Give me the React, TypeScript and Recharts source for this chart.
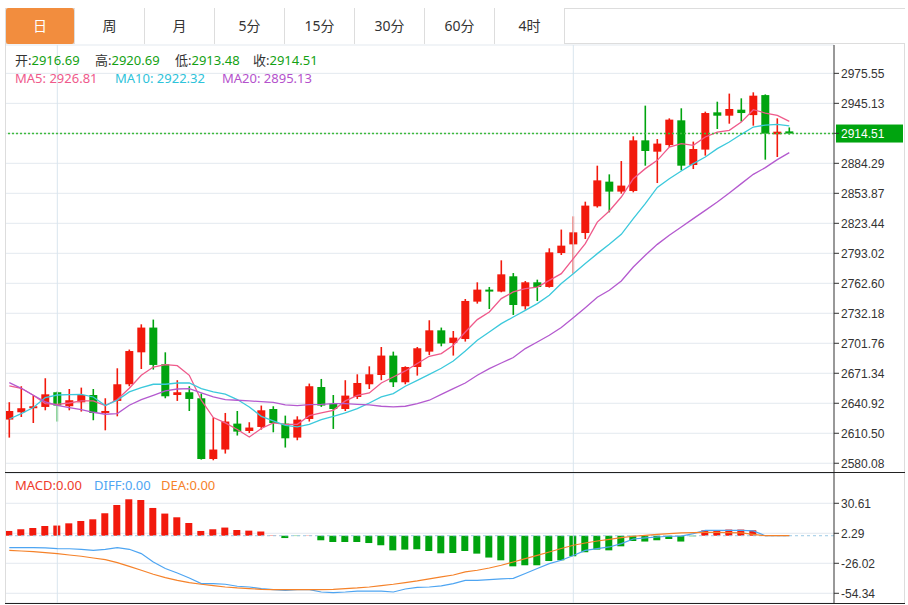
import React from 'react';
import { ComposedChart, Bar, Line, XAxis, YAxis, CartesianGrid, ReferenceLine, Cell } from 'recharts';

const tabs = ['日', '周', '月', '5分', '15分', '30分', '60分', '4时'];

// index of the first trading day of each month shown
const monthStarts = [4, 47];

const opens = [
  2624.4, 2631.8, 2635.9, 2637.2, 2652.1, 2637.9, 2641.9, 2649.3, 2631.1, 2643.3,
  2660.2, 2692.6, 2717.7, 2680.5, 2649.3, 2652.1, 2646.0, 2584.4, 2594.0, 2620.3,
  2612.8, 2616.9, 2635.1, 2620.3, 2606.1, 2625.0, 2657.4, 2640.6, 2635.1, 2647.3,
  2660.2, 2669.6, 2689.3, 2662.2, 2677.7, 2693.3, 2714.9, 2702.1, 2706.1, 2744.0,
  2756.2, 2754.2, 2769.7, 2739.3, 2763.6, 2758.9, 2793.3, 2802.1, 2813.6, 2840.7,
  2865.7, 2855.6, 2856.2, 2907.6, 2896.1, 2902.8, 2927.9, 2882.6, 2898.2, 2936.0,
  2932.6, 2938.7, 2933.2, 2953.5, 2913.7, 2916.69,
];
const highs = [
  2642.0, 2658.2, 2648.7, 2666.3, 2652.8, 2655.4, 2656.8, 2655.4, 2646.0, 2676.4,
  2695.4, 2721.0, 2725.8, 2692.6, 2664.3, 2658.2, 2650.8, 2626.4, 2631.1, 2633.1,
  2621.7, 2638.6, 2637.9, 2628.4, 2627.7, 2660.9, 2665.6, 2649.3, 2664.3, 2670.3,
  2678.4, 2698.0, 2693.3, 2678.4, 2698.0, 2725.1, 2717.7, 2714.2, 2746.7, 2763.6,
  2758.9, 2785.9, 2773.0, 2764.9, 2766.3, 2798.1, 2817.1, 2830.5, 2845.4, 2881.9,
  2873.1, 2886.6, 2911.7, 2942.8, 2908.9, 2929.9, 2940.1, 2906.3, 2936.7, 2946.8,
  2955.0, 2950.2, 2956.3, 2954.2, 2929.9, 2920.69,
];
const lows = [
  2606.1, 2627.0, 2620.9, 2633.8, 2622.4, 2633.8, 2632.5, 2623.7, 2613.5, 2627.7,
  2658.2, 2675.7, 2675.1, 2646.0, 2643.3, 2633.1, 2583.8, 2583.1, 2589.9, 2608.2,
  2610.8, 2614.2, 2611.5, 2596.0, 2603.4, 2622.4, 2637.2, 2614.9, 2633.1, 2645.3,
  2655.4, 2664.3, 2657.4, 2660.2, 2669.0, 2689.9, 2698.7, 2689.3, 2703.5, 2742.0,
  2736.5, 2753.5, 2730.5, 2735.9, 2744.6, 2758.2, 2791.3, 2772.4, 2807.5, 2839.4,
  2834.6, 2853.5, 2854.9, 2881.9, 2864.3, 2900.8, 2877.2, 2878.5, 2892.1, 2919.1,
  2924.5, 2926.6, 2922.5, 2888.0, 2890.7, 2913.48,
];
const closes = [
  2633.1, 2635.9, 2637.9, 2650.0, 2638.6, 2644.0, 2649.3, 2631.1, 2633.1, 2660.2,
  2693.9, 2717.7, 2679.8, 2648.0, 2652.1, 2645.3, 2584.4, 2594.0, 2622.4, 2612.2,
  2616.3, 2633.8, 2620.9, 2605.4, 2624.4, 2658.2, 2638.6, 2635.1, 2648.7, 2661.5,
  2670.3, 2689.3, 2662.2, 2677.7, 2696.7, 2714.9, 2701.5, 2707.5, 2744.7, 2756.2,
  2754.2, 2771.7, 2740.6, 2763.6, 2758.9, 2794.0, 2800.8, 2814.3, 2841.4, 2867.0,
  2855.6, 2861.7, 2907.6, 2896.8, 2904.3, 2928.6, 2881.9, 2898.8, 2935.3, 2932.6,
  2939.4, 2935.3, 2952.9, 2914.4, 2916.4, 2914.51,
];

const ma5 = [
  2658.6, 2656.1, 2649.0, 2640.6, 2639.9, 2641.2, 2643.3, 2643.3, 2638.6, 2644.7,
  2656.1, 2669.3, 2677.7, 2680.2, 2679.1, 2669.3, 2644.0, 2626.4, 2621.0, 2614.3,
  2606.7, 2615.3, 2621.0, 2619.6, 2619.6, 2628.4, 2631.1, 2633.8, 2643.3, 2649.0,
  2651.4, 2661.5, 2667.6, 2673.7, 2681.2, 2688.6, 2691.3, 2699.7, 2713.2, 2725.8,
  2733.5, 2747.1, 2753.8, 2757.2, 2758.8, 2765.6, 2772.4, 2787.6, 2802.8, 2824.7,
  2835.9, 2850.1, 2868.7, 2878.9, 2887.3, 2900.8, 2904.3, 2902.5, 2911.0, 2916.0,
  2917.7, 2926.1, 2938.7, 2935.3, 2932.9, 2926.81,
];
const ma10 = [
  2625.0, 2630.5, 2636.6, 2646.7, 2649.3, 2649.7, 2650.0, 2647.3, 2638.6, 2644.0,
  2652.4, 2656.8, 2660.2, 2660.2, 2661.5, 2661.5, 2655.8, 2652.4, 2650.1, 2644.7,
  2637.2, 2627.7, 2623.0, 2618.6, 2616.9, 2619.6, 2624.4, 2627.7, 2631.1, 2635.5,
  2641.2, 2647.3, 2650.8, 2658.2, 2664.2, 2670.3, 2676.4, 2683.8, 2693.9, 2704.8,
  2713.2, 2721.7, 2728.4, 2735.2, 2742.0, 2750.4, 2762.3, 2772.4, 2782.6, 2792.7,
  2802.1, 2812.3, 2828.2, 2843.4, 2859.9, 2868.7, 2876.5, 2884.0, 2890.7, 2899.2,
  2905.9, 2913.7, 2921.1, 2923.1, 2923.8, 2922.32,
];
const ma20 = [
  2661.9, 2656.1, 2649.0, 2642.3, 2638.9, 2636.6, 2634.5, 2631.8, 2629.8, 2630.5,
  2638.9, 2644.7, 2649.0, 2653.6, 2655.4, 2655.8, 2651.4, 2647.3, 2644.7, 2644.0,
  2643.3, 2642.6, 2641.9, 2639.2, 2638.6, 2639.6, 2639.9, 2640.6, 2640.6, 2639.9,
  2639.2, 2637.9, 2637.2, 2637.9, 2640.6, 2644.0, 2650.0, 2655.8, 2661.5, 2669.3,
  2676.1, 2681.8, 2687.3, 2696.4, 2703.1, 2709.9, 2717.7, 2727.6, 2737.8, 2748.4,
  2755.5, 2765.0, 2779.1, 2791.0, 2802.1, 2811.3, 2819.7, 2828.2, 2836.6, 2845.0,
  2854.2, 2863.7, 2873.1, 2879.9, 2888.0, 2895.13,
];

const macdHist = [
  4.5, 6.1, 7.3, 9.2, 9.6, 11.7, 13.9, 15.5, 21.2, 29.0,
  34.4, 33.7, 26.2, 20.9, 17.4, 12.0, 4.5, 6.1, 7.7, 5.4,
  4.8, 3.9, 0.3, -2.2, -0.3, 0.2, -4.3, -5.9, -5.9, -5.9,
  -6.9, -9.0, -13.8, -13.1, -12.8, -14.4, -16.6, -16.3, -14.4, -16.9,
  -20.6, -23.2, -28.9, -27.9, -27.9, -23.9, -23.2, -19.4, -15.6, -13.1,
  -13.8, -10.0, -5.0, -5.5, -4.3, -3.1, -5.5, -0.5, 5.1, 5.1,
  5.8, 5.8, 5.1, 0, 0, 0,
];
const diff = [
  -11.2, -11.2, -11.2, -11.4, -12.1, -12.3, -12.8, -13.8, -12.8, -11.2,
  -12.8, -16.9, -24.8, -31.0, -35.2, -39.9, -45.2, -45.2, -45.8, -47.7,
  -48.4, -49.9, -50.8, -51.5, -50.8, -50.8, -53.1, -53.7, -53.1, -52.2,
  -52.2, -52.2, -53.1, -50.3, -48.7, -48.4, -47.3, -45.2, -42.1, -42.1,
  -41.4, -40.8, -40.2, -35.7, -31.0, -26.3, -23.2, -18.7, -13.8, -12.1,
  -10.6, -7.4, -3.1, -2.1, -1.2, -0.5, -0.3, 2.0, 5.1, 5.1,
  5.1, 5.1, 4.5, 0, 0, 0,
];
const dea = [
  -13.8, -14.4, -15.0, -15.9, -16.9, -18.2, -19.4, -21.0, -22.5, -25.4,
  -28.9, -32.6, -36.4, -39.5, -42.1, -44.2, -45.8, -47.1, -48.4, -49.3,
  -49.9, -50.6, -50.8, -50.8, -50.8, -50.8, -50.8, -50.6, -49.9, -49.3,
  -48.4, -47.1, -45.8, -44.2, -42.7, -40.8, -38.9, -37.1, -34.2, -32.6,
  -30.5, -27.9, -24.8, -21.6, -18.5, -15.4, -12.1, -9.0, -6.9, -5.0,
  -3.4, -1.8, -0.5, 0.4, 1.3, 2.0, 2.6, 2.9, 3.2, 3.2,
  2.9, 2.6, 1.3, 0, 0, 0,
];

const priceTicks = [
  2580.08, 2610.5, 2640.92, 2671.34, 2701.76, 2732.18, 2762.6,
  2793.02, 2823.44, 2853.87, 2884.29, 2914.71, 2945.13, 2975.55,
];
const macdTicks = [-54.34, -26.02, 2.29, 30.61];

const UP = '#F2190C';
const DOWN = '#00A40F';
const GRID = '#E3E9EF';
const VGRID = '#D9E5EE';
const FONT = "'Noto Sans', 'Noto Sans CJK SC', sans-serif";
const AXIS_FONT = "'Liberation Sans', Arial, sans-serif";

const last = {
  open: opens[opens.length - 1],
  high: highs[highs.length - 1],
  low: lows[lows.length - 1],
  close: closes[closes.length - 1],
};

const candles = opens.map((open, i) => ({
  i,
  open,
  high: highs[i],
  low: lows[i],
  close: closes[i],
  range: [lows[i], highs[i]],
  ma5: ma5[i],
  ma10: ma10[i],
  ma20: ma20[i],
}));

const macdRows = macdHist.map((m, i) => ({ i, macd: m, diff: diff[i], dea: dea[i] }));

function Candle(props: any) {
  const { x, y, width, height, payload } = props;
  if (x == null || y == null) return null;
  const { open, close, high, low } = payload;
  const span = high - low || 1;
  const toY = (v: number) => y + ((high - v) / span) * height;
  const color = close >= open ? UP : DOWN;
  const cx = x + width / 2;
  const top = toY(Math.max(open, close));
  const bottom = toY(Math.min(open, close));
  return (
    <g>
      <line x1={cx} x2={cx} y1={y} y2={y + height} stroke={color} strokeWidth={1.6} />
      <rect x={x} y={top} width={width} height={Math.max(bottom - top, 1.5)} fill={color} />
    </g>
  );
}

function PriceTag(props: any) {
  const { viewBox } = props;
  if (!viewBox) return null;
  const x = viewBox.x + viewBox.width + 2;
  const y = viewBox.y;
  return (
    <g>
      <rect x={x} y={y - 9} width={67} height={18} fill="#00A40F" />
      <text x={x + 5} y={y} dy="0.36em" fill="#fff" fontSize={12} fontFamily={AXIS_FONT}>
        {last.close.toFixed(2)}
      </text>
    </g>
  );
}

const axisTick = { fontSize: 12, fill: '#333', fontFamily: AXIS_FONT };

export default function App() {
  const xDomain = [-0.275, 68.725];
  return (
    <div style={{ position: 'absolute', left: 0, top: 0, width: 908, height: 605, background: '#fff', fontFamily: FONT }}>
      {/* tab bar */}
      <div style={{ position: 'absolute', left: 5, top: 8, width: 900, height: 36, borderTop: '1px solid #DDDDDD', borderBottom: '1px solid #DDDDDD', boxSizing: 'border-box' }} />
      {tabs.map((t, k) => (
        <div
          key={t}
          style={{
            position: 'absolute',
            left: 5 + k * 70,
            top: 8,
            width: 70,
            height: 36,
            boxSizing: 'border-box',
            borderRight: '1px solid #DDDDDD',
            borderLeft: k === 0 ? '1px solid #DDDDDD' : 'none',
            background: k === 0 ? '#F28D3E' : '#fff',
            borderRadius: k === 0 ? 3 : 0,
            color: k === 0 ? '#fff' : '#333',
            fontSize: 14,
            lineHeight: '36px',
            textAlign: 'center',
          }}
        >
          {t}
        </div>
      ))}

      {/* frame */}
      <div style={{ position: 'absolute', left: 5, top: 44, width: 900, height: 560, borderLeft: '1px solid #DDDDDD', borderRight: '1px solid #DDDDDD', boxSizing: 'border-box' }} />

      {/* price panel */}
      <div style={{ position: 'absolute', left: 5, top: 44 }}>
        <ComposedChart width={900} height={430} data={candles} margin={{ top: 1, right: 0, bottom: 1, left: 1 }}>
          <CartesianGrid stroke={GRID} vertical={false} />
          <XAxis dataKey="i" type="number" domain={xDomain} hide allowDataOverflow />
          <YAxis
            orientation="right"
            width={71}
            domain={[2570.2, 3004.3]}
            ticks={priceTicks}
            interval={0}
            allowDataOverflow
            tick={axisTick}
            tickSize={5}
            tickMargin={2}
            tickFormatter={(v: number) => (v === 2914.71 ? '' : v.toFixed(2))}
            axisLine={{ stroke: '#333' }}
            tickLine={{ stroke: '#333' }}
          />
          {monthStarts.map((m) => (
            <ReferenceLine key={m} x={m} stroke={VGRID} />
          ))}
          <Bar dataKey="range" barSize={8} isAnimationActive={false} shape={(p: any) => <Candle {...p} />} />
          <Line dataKey="ma5" stroke="#EF5A8B" strokeWidth={1.3} dot={false} isAnimationActive={false} />
          <Line dataKey="ma10" stroke="#3CC9DC" strokeWidth={1.3} dot={false} isAnimationActive={false} />
          <Line dataKey="ma20" stroke="#B45ACF" strokeWidth={1.3} dot={false} isAnimationActive={false} />
          <ReferenceLine
            y={last.close}
            stroke="#3DBA3D"
            strokeWidth={1.5}
            strokeDasharray="2 2"
            label={(p: any) => <PriceTag {...p} />}
          />
        </ComposedChart>
      </div>

      {/* OHLC / MA header */}
      <div style={{ position: 'absolute', left: 15, top: 51, fontSize: 13, lineHeight: '18px', whiteSpace: 'pre', color: '#333' }}>
        <span>开:</span><span style={{ color: '#13A113' }}>{last.open.toFixed(2)}</span>
        <span style={{ position: 'absolute', left: 80 }}>高:<span style={{ color: '#13A113' }}>{last.high.toFixed(2)}</span></span>
        <span style={{ position: 'absolute', left: 160 }}>低:<span style={{ color: '#13A113' }}>{last.low.toFixed(2)}</span></span>
        <span style={{ position: 'absolute', left: 238 }}>收:<span style={{ color: '#13A113' }}>{last.close.toFixed(2)}</span></span>
      </div>
      <div style={{ position: 'absolute', left: 15, top: 69, fontSize: 13, lineHeight: '18px', whiteSpace: 'pre' }}>
        <span style={{ color: '#EF5A8B' }}>MA5: {ma5[ma5.length - 1].toFixed(2)}</span>
        <span style={{ position: 'absolute', left: 100, color: '#2DC3DA' }}>MA10: {ma10[ma10.length - 1].toFixed(2)}</span>
        <span style={{ position: 'absolute', left: 207, color: '#B452CC' }}>MA20: {ma20[ma20.length - 1].toFixed(2)}</span>
      </div>

      {/* MACD panel */}
      <div style={{ position: 'absolute', left: 5, top: 473 }}>
        <ComposedChart width={900} height={131} data={macdRows} margin={{ top: 0, right: 0, bottom: 1, left: 1 }}>
          <CartesianGrid stroke={GRID} vertical={false} />
          <XAxis dataKey="i" type="number" domain={xDomain} hide allowDataOverflow />
          <YAxis
            orientation="right"
            width={71}
            domain={[-63.5, 59.2]}
            ticks={macdTicks}
            interval={0}
            allowDataOverflow
            tick={axisTick}
            tickSize={5}
            tickMargin={2}
            tickFormatter={(v: number) => v.toFixed(2)}
            axisLine={{ stroke: '#333' }}
            tickLine={{ stroke: '#333' }}
          />
          {monthStarts.map((m) => (
            <ReferenceLine key={m} x={m} stroke={VGRID} />
          ))}
          <ReferenceLine y={0} stroke="#9CC9E4" strokeDasharray="3 3" />
          <Bar dataKey="macd" barSize={7} isAnimationActive={false}>
            {macdRows.map((r) => (
              <Cell key={r.i} fill={r.macd >= 0 ? UP : DOWN} />
            ))}
          </Bar>
          <Line dataKey="diff" stroke="#4EA5F2" strokeWidth={1.2} dot={false} isAnimationActive={false} />
          <Line dataKey="dea" stroke="#F5822A" strokeWidth={1.2} dot={false} isAnimationActive={false} />
        </ComposedChart>
      </div>
      <div style={{ position: 'absolute', left: 15, top: 476, fontSize: 13, lineHeight: '18px', whiteSpace: 'pre' }}>
        <span style={{ color: '#EE3B2B' }}>MACD:{(0).toFixed(2)}</span>
        <span style={{ position: 'absolute', left: 79, color: '#4EA5F2' }}>DIFF:{(0).toFixed(2)}</span>
        <span style={{ position: 'absolute', left: 146, color: '#F5822A' }}>DEA:{(0).toFixed(2)}</span>
      </div>

      {/* panel separators */}
      <div style={{ position: 'absolute', left: 5, top: 472, width: 900, height: 1, background: '#222' }} />
      <div style={{ position: 'absolute', left: 5, top: 603, width: 900, height: 1, background: '#222' }} />
    </div>
  );
}
